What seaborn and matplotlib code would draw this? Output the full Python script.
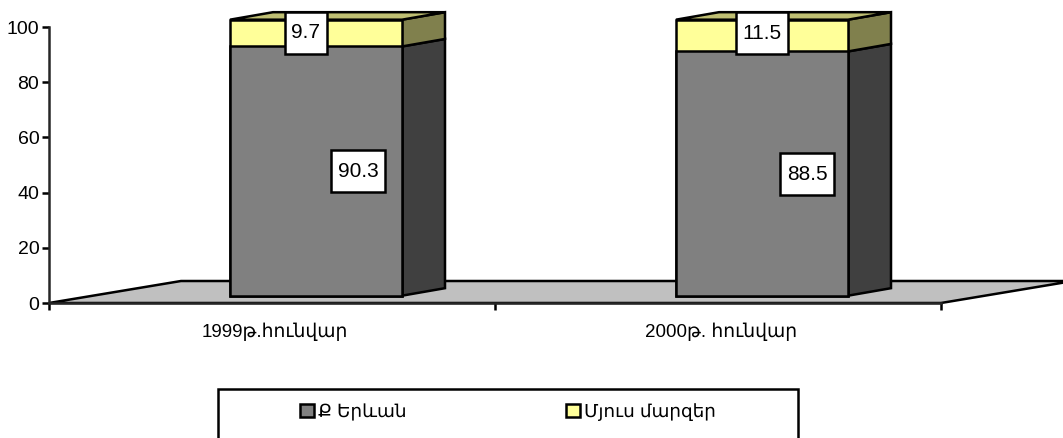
import numpy as np
import pandas as pd
import seaborn as sns
import matplotlib.pyplot as plt
from matplotlib.patches import Patch, Rectangle
from matplotlib.path import Path
from matplotlib.transforms import Affine2D

categories = ["1999թ.հունվար", "2000թ. հունվար"]
yerevan = [90.3, 88.5]
other_regions = [9.7, 11.5]
series_names = ["Ք Երևան", "Մյուս մարզեր"]
y_ticks = [0, 20, 40, 60, 80, 100]

sns.set_style("white")
plt.rcParams['font.family'] = ['Liberation Sans', 'DejaVu Sans']
plt.rcParams['text.color'] = 'black'
plt.rcParams['xtick.color'] = 'black'
plt.rcParams['ytick.color'] = 'black'

W, H = 1063, 438
LW = 1.8
FS = 14

fig = plt.figure(figsize=(W / 100, H / 100), dpi=100, facecolor="white")
# axes: x from 49 to 941 px, y=0 at 303 px, 2.76 px per unit
ax = fig.add_axes([49 / W, (H - 303) / H, 892 / W, 303 / H])
ax.set_facecolor("none")

px_x = 446.0  # pixels per category
px_y = 2.76   # pixels per unit

# depth of the fake 3d box
floor_dx, floor_dy = 132 / px_x, 22 / px_y
depth_dx, depth_dy = 43 / px_x, 7.5 / px_y
bar_width = 172 / px_x
shift = 44 / px_x
base = 2.65

# where the value boxes sit, pixels from the category centre / data units
low_label_dx = [86, 89]
low_label_y = [47.8, 46.7]
high_label_dx = [34, 44]
high_label_y = [98.0, 97.8]


def label_box(x0, y0, w, h, mutation_size):
    # wider margin above and below the number than beside it
    x0, x1 = x0 - 6.5, x0 + w + 6.5
    y0, y1 = y0 - 11.5, y0 + h + 11.5
    return Path([(x0, y0), (x1, y0), (x1, y1), (x0, y1), (x0, y0)], closed=True)


df = pd.DataFrame({"cat": categories, "yerevan": yerevan, "other": other_regions})
df["total"] = df["yerevan"] + df["other"]

# floor
ax.fill([-0.5, -0.5 + floor_dx, 1.5 + floor_dx, 1.5], [0, floor_dy, floor_dy, 0],
        facecolor="#C0C0C0", edgecolor="black", lw=LW, clip_on=False, zorder=1)

to_front = Affine2D().translate(shift, base) + ax.transData
sns.barplot(data=df, x="cat", y="total", color="#FFFF99", width=bar_width, saturation=1,
            edgecolor="black", linewidth=LW, transform=to_front, ax=ax, zorder=3, clip_on=False)
sns.barplot(data=df, x="cat", y="yerevan", color="#808080", width=bar_width, saturation=1,
            edgecolor="black", linewidth=LW, transform=to_front, ax=ax, zorder=3, clip_on=False)

for i, row in df.iterrows():
    x0 = i + shift - bar_width / 2
    x1 = i + shift + bar_width / 2
    y_mid = base + row["yerevan"]
    y_top = base + row["total"]
    # side faces
    ax.fill([x1, x1 + depth_dx, x1 + depth_dx, x1],
            [base, base + depth_dy, y_mid + depth_dy, y_mid],
            facecolor="#404040", edgecolor="black", lw=LW, clip_on=False, zorder=2)
    ax.fill([x1, x1 + depth_dx, x1 + depth_dx, x1],
            [y_mid, y_mid + depth_dy, y_top + depth_dy, y_top],
            facecolor="#80804D", edgecolor="black", lw=LW, clip_on=False, zorder=2)
    # top face
    ax.fill([x0, x0 + depth_dx, x1 + depth_dx, x1],
            [y_top, y_top + depth_dy, y_top + depth_dy, y_top],
            facecolor="#BFBF73", edgecolor="black", lw=LW, clip_on=False, zorder=2)

    box = dict(boxstyle=label_box, facecolor="white", edgecolor="black", linewidth=LW)
    ax.text(i + low_label_dx[i] / px_x, low_label_y[i], f"{row['yerevan']:.1f}",
            ha="center", va="center", fontsize=15, color="black", bbox=box, zorder=5)
    ax.text(i + high_label_dx[i] / px_x, high_label_y[i], f"{row['other']:.1f}",
            ha="center", va="center", fontsize=15, color="black", bbox=box, zorder=5)

# axes look
ax.set_xlim(-0.5, 1.5)
ax.set_ylim(0, 303 / px_y)
ax.set_xlabel("")
ax.set_ylabel("")
sns.despine(ax=ax)
ax.spines["left"].set_bounds(0, 100)
ax.spines["left"].set_linewidth(LW)
ax.spines["bottom"].set_linewidth(LW)
ax.spines["bottom"].set_zorder(6)
ax.set_yticks(y_ticks)
ax.set_xticks([-0.5, 0.5, 1.5])
ax.set_xticklabels([])
ax.set_xticks([0, 1], minor=True)
ax.set_xticklabels(categories, minor=True, fontsize=13.5)
ax.tick_params(axis="x", which="major", direction="out", length=5, width=LW, bottom=True)
ax.tick_params(axis="x", which="minor", length=0, pad=14, bottom=True)
ax.tick_params(axis="y", direction="out", length=5, width=LW, labelsize=FS, pad=2, left=True)
for lab in ax.get_xticklabels(minor=True):
    lab.set_transform(lab.get_transform() + Affine2D().translate(3, 0))

# legend box runs off the bottom edge of the picture
fig.add_artist(Rectangle((218 / W, -0.05), 580 / W, 0.05 + (H - 389) / H, transform=fig.transFigure,
                         facecolor="white", edgecolor="black", lw=LW))
handles = [Patch(facecolor="#808080", edgecolor="black", lw=LW),
           Patch(facecolor="#FFFF99", edgecolor="black", lw=LW)]
fig.legend(handles, series_names, ncol=2, frameon=False, fontsize=13.2,
           loc="center left", bbox_to_anchor=(283.5 / W, (H - 412) / H),
           handlelength=0.75, handleheight=0.75, handletextpad=0.22, columnspacing=8.7)

fig.savefig("out.png", dpi=100)
